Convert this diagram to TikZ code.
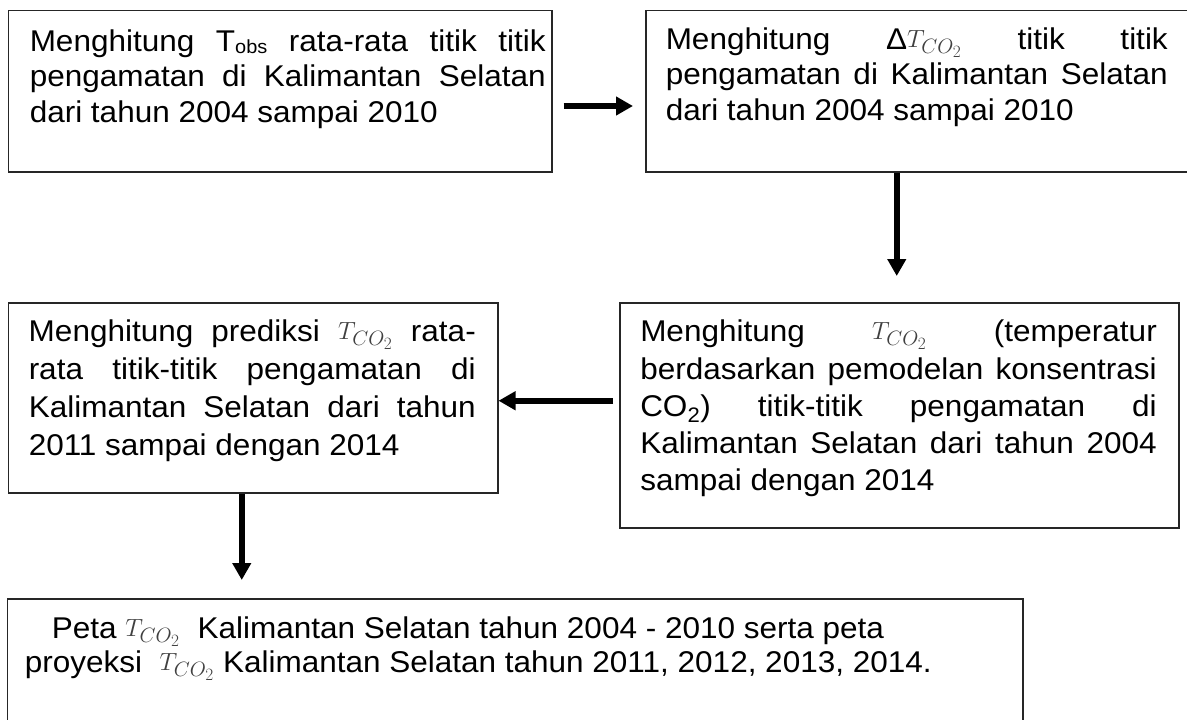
\documentclass[tikz,border=0pt]{standalone}
\usepackage{fontspec}
\setmainfont[FakeStretch=1.05]{Liberation Sans}
\usetikzlibrary{arrows.meta}
\newlength{\tw}
\newcommand{\jl}[1]{\makebox[\tw][s]{#1}}
\newcommand{\tco}{{\fontsize{32}{32}\selectfont\textcolor{black!75}{\raisebox{2pt}{$T_{CO_2}$}}}}
\newcommand{\obs}{{\fontsize{19}{19}\selectfont\raisebox{-2pt}{obs}}}
% #1 box width, #2 box height, #3 left pad, #4 top gap, #5 text width, #6 baselineskip, #7 lines
\newcommand{\boxtxt}[7]{%
  \parbox[c][#2pt][t]{#1pt}{\vspace*{#4pt}\hspace*{#3pt}\setlength{\tw}{#5pt}%
  \parbox[t]{#5pt}{\fontsize{30}{#6}\selectfont #7}}}
\tikzset{
  boxnode/.style={draw=black!85, line width=1.5pt, inner sep=0pt, anchor=north west},
  arr/.style={line width=5.5pt, -{Triangle[length=17pt,width=18pt]}},
}
\begin{document}
\begin{tikzpicture}[x=1pt,y=-1pt]
\useasboundingbox (0,0) rectangle (1187,720);
\fill[white] (0,0) rectangle (1187,720);

\node[boxnode] (b1) at (7.5,9.5) {\boxtxt{543.5}{161.5}{21.5}{19.5}{516}{35.5}{%
\jl{Menghitung T\obs{} rata-rata titik titik}\\
\jl{pengamatan di Kalimantan Selatan}\\
dari tahun 2004 sampai 2010}};

\node[boxnode] (b2) at (645,9.5) {\boxtxt{542}{161.5}{20}{17.5}{502}{35.5}{%
\jl{Menghitung Δ\tco{} titik titik}\\
\jl{pengamatan di Kalimantan Selatan}\\
dari tahun 2004 sampai 2010}};

\node[boxnode] (b3) at (7.5,302) {\boxtxt{489.5}{190}{20.5}{17.5}{447}{38}{%
\jl{Menghitung prediksi \tco{} rata-}\\
\jl{rata titik-titik pengamatan di}\\
\jl{Kalimantan Selatan dari tahun}\\
2011 sampai dengan 2014}};

\node[boxnode] (b4) at (619,302) {\boxtxt{559}{225}{20.5}{17.5}{516.5}{37.2}{%
\jl{Menghitung \tco{} (temperatur}\\
\jl{berdasarkan pemodelan konsentrasi}\\
\jl{CO\textsubscript{2}) titik-titik pengamatan di}\\
\jl{Kalimantan Selatan dari tahun 2004}\\
sampai dengan 2014}};

\node[boxnode] (b5) at (6.5,598) {\boxtxt{1015.5}{124}{17.5}{18.5}{990}{34}{%
\hspace*{27pt}Peta \tco{}\ \ Kalimantan Selatan tahun 2004 - 2010 serta peta\\
proyeksi\ \ \tco{} Kalimantan Selatan tahun 2011, 2012, 2013, 2014.}};

\draw[arr] ([shift={(11,96.5)}]b1.north east) -- ([shift={(-12,96.5)}]b2.north west);
\draw[arr] ([xshift=-20pt]b2.south) -- ([shift={(-2.5,-26)}]b4.north);
\draw[arr] ([shift={(-6,-14.5)}]b4.west) -- ([shift={(0,3)}]b3.east);
\draw[arr] ([xshift=-11.25pt]b3.south) -- ([shift={(-273.25,-18)}]b5.north);
\end{tikzpicture}
\end{document}
